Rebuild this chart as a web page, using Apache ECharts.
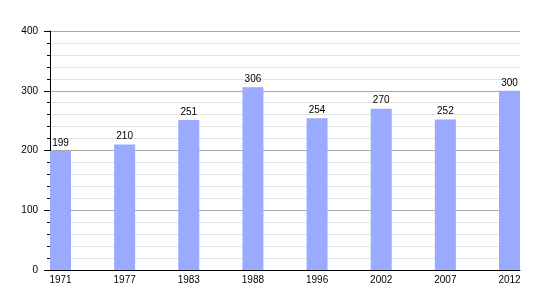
<!DOCTYPE html>
<html>
<head>
<meta charset="utf-8">
<script src="https://cdn.jsdelivr.net/npm/echarts@6/dist/echarts.min.js"></script>
<style>html,body{margin:0;padding:0;background:#fff}#c{width:550px;height:300px}</style>
</head>
<body>
<div id="c"></div>
<script>
const years = ['1971','1977','1983','1988','1996','2002','2007','2012'];
const population = [199, 210, 251, 306, 254, 270, 252, 300];
const yTicks = [0, 100, 200, 300, 400];

const chart = echarts.init(document.getElementById('c'), null, {renderer: 'canvas'});
const font = 'Liberation Sans, Arial, sans-serif';
chart.setOption({
  animation: false,
  backgroundColor: '#ffffff',
  grid: [
    {left: 50, right: 30, top: 31, bottom: 30},
    {left: 60.5, right: 40.5, top: 31, bottom: 30}
  ],
  xAxis: [
    {gridIndex: 0, type: 'value', min: 0, max: 1, axisLine: {show: true, lineStyle: {color: '#000', width: 1}},
     axisTick: {show: false}, axisLabel: {show: false}, splitLine: {show: false}},
    {gridIndex: 1, type: 'category', data: years, boundaryGap: false,
     axisLine: {show: false}, axisTick: {show: false},
     axisLabel: {color: '#000', fontSize: 10, fontFamily: font, margin: 5, interval: 0}}
  ],
  yAxis: [
    {gridIndex: 0, type: 'value', min: yTicks[0], max: yTicks[yTicks.length-1], interval: 100,
     axisLine: {show: true, lineStyle: {color: '#000', width: 1}},
     axisTick: {show: true, length: 6, lineStyle: {color: '#000'}},
     minorTick: {show: true, splitNumber: 5, length: 3, lineStyle: {color: '#000'}},
     axisLabel: {color: '#000', fontSize: 10, fontFamily: font, margin: 12},
     splitLine: {show: true, lineStyle: {color: '#aaaaaa', width: 1}},
     minorSplitLine: {show: true, lineStyle: {color: '#e2e2e2', width: 1}}},
    {gridIndex: 1, type: 'value', min: 0, max: 400, show: false}
  ],
  series: [{
    type: 'bar',
    xAxisIndex: 1, yAxisIndex: 1,
    data: population,
    barWidth: 21,
    itemStyle: {color: '#99aaff'},
    label: {show: true, position: 'top', distance: 3, color: '#000', fontSize: 10, fontFamily: font},
    z: 5
  }]
});
</script>
</body>
</html>
